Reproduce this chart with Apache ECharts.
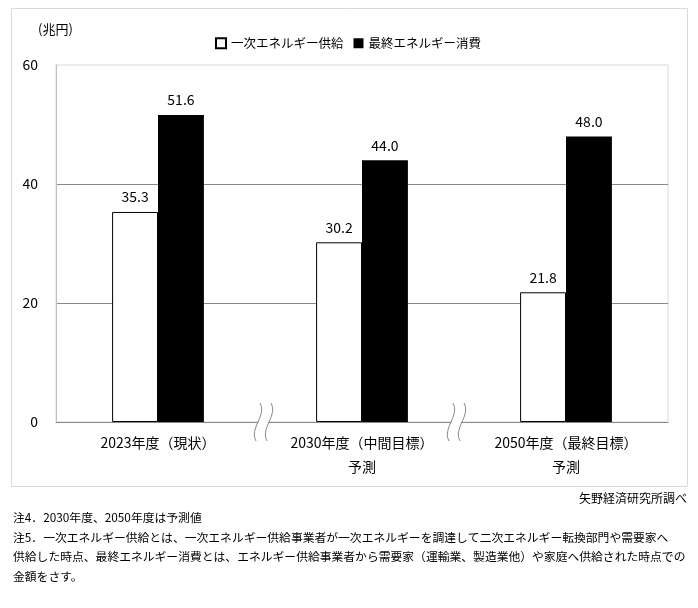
<!DOCTYPE html>
<html><head><meta charset="utf-8">
<script src="https://cdn.jsdelivr.net/npm/echarts@6/dist/echarts.min.js"></script>
<style>html,body{margin:0;padding:0;background:#fff}#c{width:698px;height:608px}</style>
</head><body><div id="c"></div>
<script>
const categories = ['2023年度（現状）', '2030年度（中間目標）\n予測', '2050年度（最終目標）\n予測'];
const seriesNames = ['一次エネルギー供給', '最終エネルギー消費'];
const supplyValues = [35.3, 30.2, 21.8];
const finalValues = [51.6, 44.0, 48.0];
const yTicks = [0, 20, 40, 60];
const unitLabel = '(兆円)';
const sourceNote = '矢野経済研究所調べ';
const footnotes = [
  '注4．2030年度、2050年度は予測値',
  '注5．一次エネルギー供給とは、一次エネルギー供給事業者が一次エネルギーを調達して二次エネルギー転換部門や需要家へ',
  '供給した時点、最終エネルギー消費とは、エネルギー供給事業者から需要家（運輸業、製造業他）や家庭へ供給された時点での',
  '金額をさす。'
];

const FONT = '"Noto Sans CJK JP", "Noto Sans", sans-serif';
const chart = echarts.init(document.getElementById('c'), null, {renderer: 'canvas'});

const labelStyle = {show: true, position: 'top', distance: 8, color: '#000', fontSize: 14, fontFamily: FONT,
  formatter: p => p.value.toFixed(1)};

const option = {
  animation: false,
  backgroundColor: '#fff',
  textStyle: {fontFamily: FONT},
  grid: {left: 56, top: 65, width: 612, height: 357, show: true, borderColor: '#d9d9d9', borderWidth: 1, containLabel: false},
  legend: {
    left: 210, top: 32, itemWidth: 10, itemHeight: 10, itemGap: 10, icon: 'rect',
    textStyle: {color: '#000', fontSize: 12.5, fontFamily: FONT},
    data: seriesNames
  },
  xAxis: {
    type: 'category', data: categories,
    axisTick: {show: false},
    axisLine: {lineStyle: {color: '#888', width: 1}},
    axisLabel: {color: '#000', fontSize: 14, fontFamily: FONT, margin: 9, lineHeight: 24, interval: 0}
  },
  yAxis: {
    type: 'value', min: yTicks[0], max: yTicks[yTicks.length - 1], interval: yTicks[1] - yTicks[0],
    axisLine: {show: true, lineStyle: {color: '#bfbfbf'}},
    axisTick: {show: false},
    axisLabel: {color: '#000', fontSize: 14, fontFamily: FONT, margin: 18},
    splitLine: {show: true, showMaxLine: false, lineStyle: {color: '#888', width: 1}}
  },
  series: [
    {name: seriesNames[0], type: 'bar', data: supplyValues, barGap: '0%', barCategoryGap: '55%',
     itemStyle: {color: '#fff', borderColor: '#000', borderWidth: 1}, label: labelStyle},
    {name: seriesNames[1], type: 'bar', data: finalValues, barGap: '0%', barCategoryGap: '55%',
     itemStyle: {color: '#000'}, label: labelStyle}
  ]
};
chart.setOption(option);

// decorations: outer frame, unit, footnotes, axis break marks
const baseY = chart.convertToPixel({yAxisIndex: 0}, 0);
const c0 = chart.convertToPixel({xAxisIndex: 0}, 0);
const c1 = chart.convertToPixel({xAxisIndex: 0}, 1);
const c2 = chart.convertToPixel({xAxisIndex: 0}, 2);
const breakXs = [(c0 + c1) / 2 + 3, (c1 + c2) / 2 - 8];
const graphics = [
  {type: 'rect', shape: {x: 11.5, y: 8.5, width: 676, height: 478}, style: {fill: 'none', stroke: '#d9d9d9', lineWidth: 1}, z: -10, silent: true},
  {type: 'text', x: 38, y: 23, style: {text: unitLabel, fill: '#000', font: '13px ' + FONT}},
  {type: 'text', x: 687, y: 492, style: {text: sourceNote, fill: '#000', font: '12px ' + FONT, textAlign: 'right'}}
];
footnotes.forEach((t, i) => {
  graphics.push({type: 'text', x: 13, y: 512 + i * 19.5, style: {text: t, fill: '#000', font: '11.8px ' + FONT}});
});
function waveShape(cx, cy) {
  return {x1: cx + 2, y1: cy - 19, cpx1: cx + 9, cpy1: cy - 6, cpx2: cx - 9, cpy2: cy + 6, x2: cx - 2, y2: cy + 19};
}
breakXs.forEach(bx => {
  graphics.push({type: 'rect', shape: {x: bx - 5, y: baseY - 2, width: 10, height: 4}, style: {fill: '#fff'}, z: 100, silent: true});
  graphics.push({type: 'bezierCurve', shape: waveShape(bx - 5, baseY), style: {fill: 'none', stroke: '#888', lineWidth: 1}, z: 101, silent: true});
  graphics.push({type: 'bezierCurve', shape: waveShape(bx + 6, baseY), style: {fill: 'none', stroke: '#888', lineWidth: 1}, z: 101, silent: true});
});
chart.setOption({graphic: graphics});
</script></body></html>
